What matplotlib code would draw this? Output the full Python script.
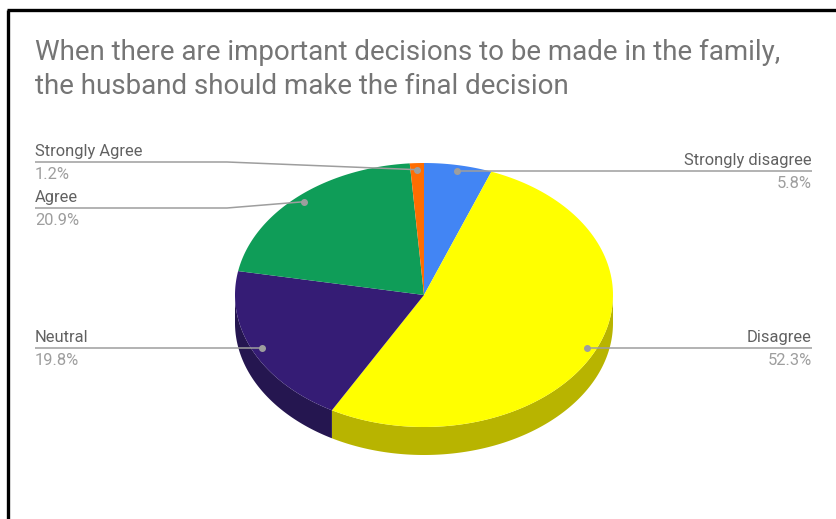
import numpy as np
import matplotlib
matplotlib.use("Agg")
import matplotlib.pyplot as plt
from matplotlib.patches import Polygon

plt.rcParams['font.family'] = ['Roboto', 'DejaVu Sans']

# survey answers, clockwise from 12 o'clock
labels = ["Strongly disagree", "Disagree", "Neutral", "Agree", "Strongly Agree"]
values = [5.8, 52.3, 19.8, 20.9, 1.2]
colors = ["#4285f4", "#ffff00", "#351c75", "#0f9d58", "#ff6d01"]
side_colors = ["#2f5fae", "#b8b400", "#251650", "#0a6e3e", "#b34c01"]
title = ("When there are important decisions to be made in the family,\n"
         "the husband should make the final decision")

# label placement: side of chart and y of the leader line (pixels)
label_side = ["right", "right", "left", "left", "left"]
label_y = [171, 348, 348, 208, 162]

W, H = 836, 519
fig = plt.figure(figsize=(W / 100, H / 100), dpi=100)
ax = fig.add_axes([0, 0, 1, 1])
ax.set_xlim(0, W)
ax.set_ylim(H, 0)
ax.axis("off")

# ellipse of the pie top, in pixels
cx, cy, a, b, depth = 424, 295, 189, 132, 28
txt_dark = "#616161"
txt_light = "#9e9e9e"
line_c = "#9e9e9e"


def pts(t0, t1, r=1.0, n=120):
    t = np.radians(np.linspace(t0, t1, n))
    return np.column_stack([cx + a * r * np.sin(t), cy - b * r * np.cos(t)])


total = sum(values)
starts = np.concatenate([[0], np.cumsum(values)[:-1]]) / total * 360
ends = np.cumsum(values) / total * 360

# sides (only the front half, 90..270 degrees, is visible)
for s, e, sc in zip(starts, ends, side_colors):
    lo, hi = max(s, 90), min(e, 270)
    if hi <= lo:
        continue
    top = pts(lo, hi)
    bot = top[::-1] + [0, depth]
    ax.add_patch(Polygon(np.vstack([top, bot]), closed=True, fc=sc, ec="none", zorder=1))

# top faces
for s, e, c in zip(starts, ends, colors):
    poly = np.vstack([[cx, cy], pts(s, e)])
    ax.add_patch(Polygon(poly, closed=True, fc=c, ec="none", zorder=2))

# leader lines and labels
for lab, v, s, e, side, ly in zip(labels, values, starts, ends, label_side, label_y):
    dot = pts((s + e) / 2, (s + e) / 2, r=0.95, n=1)[0]
    if side == "left":
        xs = [dot[0], 227, 35] if abs(dot[1] - ly) > 1 else [dot[0], 35]
        ys = [dot[1], ly, ly] if abs(dot[1] - ly) > 1 else [ly, ly]
        tx, ha = 35, "left"
    else:
        xs = [dot[0], 812]
        ys = [ly, ly]
        tx, ha = 812, "right"
    ax.plot(xs, ys, color=line_c, lw=1.1, zorder=3, solid_capstyle="butt")
    ax.plot(dot[0], ys[0], "o", ms=4, color=line_c, zorder=4)
    ax.text(tx, ly - 3, lab, ha=ha, va="bottom", fontsize=11.9, color=txt_dark)
    ax.text(tx, ly + 5, f"{v}%", ha=ha, va="top", fontsize=11.9, color=txt_light)

ax.text(35, 52, title.split("\n")[0], ha="left", va="center", fontsize=20,
        color="#757575")
ax.text(35, 86, title.split("\n")[1], ha="left", va="center", fontsize=20,
        color="#757575")

# frame
ax.plot([7, W], [10, 10], color="black", lw=2.4, solid_capstyle="butt")
ax.plot([8, 8], [10, H], color="black", lw=2.4, solid_capstyle="butt")

fig.savefig("out.png", dpi=100)
